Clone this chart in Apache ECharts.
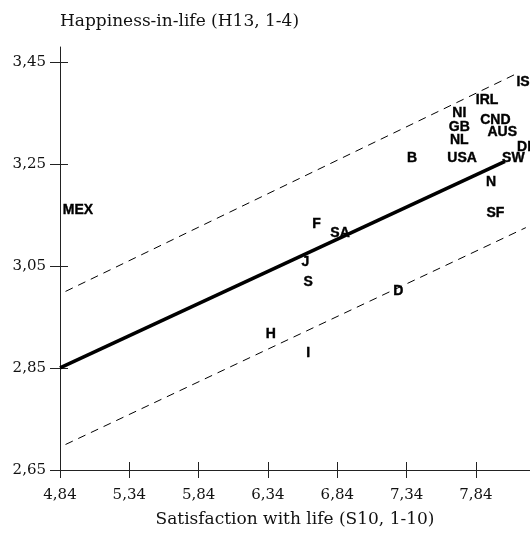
<!DOCTYPE html>
<html>
<head>
<meta charset="UTF-8">
<title>Happiness vs satisfaction</title>
<script src="https://cdn.jsdelivr.net/npm/echarts@6/dist/echarts.min.js"></script>
<style>
    body { margin: 0; background: #fff; }
    #chart { width: 530px; height: 542px; }
</style>
</head>
<body>
<div id="chart"></div>
<script>
// tick positions
const xTicks = [4.84, 5.34, 5.84, 6.34, 6.84, 7.34, 7.84];
const yTicks = [2.65, 2.85, 3.05, 3.25, 3.45];

// countries: label, satisfaction, happiness
const countries = ['IS', 'IRL', 'NI', 'CND', 'GB', 'AUS', 'NL', 'DK', 'USA', 'B', 'SW', 'N', 'SF',
                   'MEX', 'F', 'SA', 'J', 'S', 'D', 'H', 'I'];
const satisfaction = [8.18, 7.92, 7.72, 7.98, 7.72, 8.03, 7.72, 8.21, 7.74, 7.38, 8.11, 7.95, 7.98,
                      4.97, 6.69, 6.86, 6.61, 6.63, 7.28, 6.36, 6.63];
const happiness = [3.411, 3.375, 3.35, 3.336, 3.321, 3.313, 3.297, 3.283, 3.262, 3.262, 3.262, 3.215, 3.154,
                   3.16, 3.132, 3.115, 3.058, 3.019, 3.001, 2.917, 2.879];

// regression line and the two dashed bands
const fitLine = [[4.84, 2.85], [8.05, 3.255]];
const upperLine = [[4.88, 3.0], [8.12, 3.425]];
const lowerLine = [[4.88, 2.70], [8.2, 3.125]];

const serif = 'DejaVu Serif';
const fmt = v => v.toFixed(2).replace('.', ',');

const points = countries.map((c, i) => [satisfaction[i], happiness[i], c]);

const chart = echarts.init(document.getElementById('chart'));

const xBase = { type: 'value', min: 4.84, max: 8.23, position: 'bottom', splitLine: { show: false } };
const yBase = { type: 'value', min: 2.65, max: 3.479, position: 'left', splitLine: { show: false } };

chart.setOption({
    animation: false,
    grid: { left: 60, right: 0, top: 47, bottom: 72 },
    xAxis: [
        Object.assign({}, xBase, {
            name: 'Satisfaction with life (S10, 1-10)',
            nameLocation: 'middle',
            nameGap: 41,
            nameTextStyle: { fontFamily: serif, fontSize: 17, color: '#111' },
            axisLine: { lineStyle: { color: '#222', width: 1 } },
            axisTick: { customValues: xTicks, length: 8, lineStyle: { color: '#222' } },
            axisLabel: { customValues: xTicks, formatter: fmt, margin: 18,
                         fontFamily: serif, fontSize: 15, color: '#111' }
        }),
        Object.assign({}, xBase, {
            axisLine: { show: false },
            axisTick: { customValues: xTicks, inside: true, length: 8, lineStyle: { color: '#222' } },
            axisLabel: { show: false }
        })
    ],
    yAxis: [
        Object.assign({}, yBase, {
            name: 'Happiness-in-life (H13, 1-4)',
            nameLocation: 'end',
            nameGap: 25,
            nameTextStyle: { fontFamily: serif, fontSize: 17, color: '#111',
                             align: 'left', verticalAlign: 'middle' },
            axisLine: { lineStyle: { color: '#222', width: 1 } },
            axisTick: { customValues: yTicks, length: 10, lineStyle: { color: '#222' } },
            axisLabel: { customValues: yTicks, formatter: fmt, margin: 14,
                         fontFamily: serif, fontSize: 15, color: '#111' }
        }),
        Object.assign({}, yBase, {
            axisLine: { show: false },
            axisTick: { customValues: yTicks, inside: true, length: 8, lineStyle: { color: '#222' } },
            axisLabel: { show: false }
        })
    ],
    series: [
        {
            type: 'line', data: fitLine, symbol: 'none',
            lineStyle: { color: '#000', width: 3.5 }
        },
        {
            type: 'line', data: upperLine, symbol: 'none',
            lineStyle: { color: '#000', width: 1, type: [8, 6] }
        },
        {
            type: 'line', data: lowerLine, symbol: 'none',
            lineStyle: { color: '#000', width: 1, type: [8, 6] }
        },
        {
            type: 'scatter', data: points, symbolSize: 1,
            itemStyle: { color: 'rgba(0,0,0,0)', opacity: 1 },
            label: {
                show: true, position: 'inside',
                formatter: p => p.data[2],
                fontFamily: 'Liberation Sans', fontWeight: 'bold', fontSize: 14, color: '#000',
                textBorderColor: '#000', textBorderWidth: 0.4
            },
            z: 5
        }
    ]
});
</script>
</body>
</html>
